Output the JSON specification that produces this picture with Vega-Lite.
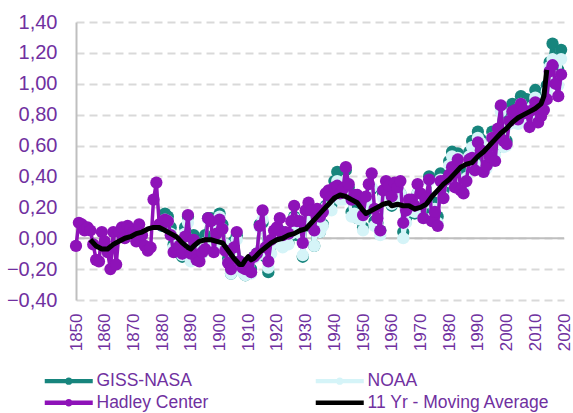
{
"$schema": "https://vega.github.io/schema/vega-lite/v6.json",
"autosize": "none",
"width": 488,
"height": 278,
"padding": {"left": 76, "top": 22, "right": 9, "bottom": 113},
"background": "white",
"config": {
  "view": {"stroke": null},
  "font": "Liberation Sans",
  "axis": {"labelFont": "Liberation Sans", "labelColor": "#7030A0", "ticks": false, "title": null, "labelOverlap": false},
  "axisY": {"labelOverlap": false, "labelFontSize": 20, "labelPadding": 19, "tickCount": 10}
},
"datasets": {
"d": [
{"t":1850,"h":-0.05},{"t":1851,"h":0.10},{"t":1852,"h":0.09},{"t":1853,"h":0.05},{"t":1854,"h":0.07},{"t":1855,"h":0.05},{"t":1856,"h":-0.04},{"t":1857,"h":-0.14},{"t":1858,"h":-0.15},{"t":1859,"h":0.04},
{"t":1860,"h":-0.02},{"t":1861,"h":-0.09},{"t":1862,"h":-0.20},{"t":1863,"h":0.04},{"t":1864,"h":-0.17},{"t":1865,"h":0.04},{"t":1866,"h":0.07},{"t":1867,"h":0.00},{"t":1868,"h":0.08},{"t":1869,"h":0.06},
{"t":1870,"h":0.04},{"t":1871,"h":-0.02},{"t":1872,"h":0.09},{"t":1873,"h":0.02},{"t":1874,"h":-0.05},{"t":1875,"h":-0.08},{"t":1876,"h":-0.06},{"t":1877,"h":0.25},{"t":1878,"h":0.36},{"t":1879,"h":0.09},
{"t":1880,"g":0.08,"n":0.09,"h":0.09},{"t":1881,"g":0.16,"n":0.12,"h":0.12},{"t":1882,"g":0.14,"n":0.11,"h":0.11},{"t":1883,"g":0.07,"n":0.03,"h":0.02},{"t":1884,"g":-0.04,"n":-0.06,"h":-0.09},
{"t":1885,"g":-0.09,"n":-0.04,"h":-0.07},{"t":1886,"g":-0.07,"n":-0.03,"h":-0.05},{"t":1887,"g":-0.12,"n":-0.11,"h":-0.10},{"t":1888,"g":0.07,"n":0.03,"h":0.01},{"t":1889,"g":0.14,"n":0.10,"h":0.15},
{"t":1890,"g":-0.11,"n":-0.15,"h":-0.10},{"t":1891,"g":0.02,"n":-0.04,"h":-0.01},{"t":1892,"g":-0.03,"n":-0.11,"h":-0.14},{"t":1893,"g":-0.07,"n":-0.12,"h":-0.15},{"t":1894,"g":-0.06,"n":-0.10,"h":-0.09},
{"t":1895,"g":0.02,"n":-0.03,"h":-0.07},{"t":1896,"g":0.13,"n":0.12,"h":0.13},{"t":1897,"g":0.13,"n":0.11,"h":0.11},{"t":1898,"g":-0.02,"n":-0.05,"h":-0.09},{"t":1899,"g":0.07,"n":0.06,"h":0.03},
{"t":1900,"g":0.16,"n":0.14,"h":0.12},{"t":1901,"g":0.09,"n":0.06,"h":0.06},{"t":1902,"g":-0.04,"n":-0.04,"h":-0.08},{"t":1903,"g":-0.13,"n":-0.16,"h":-0.16},{"t":1904,"g":-0.23,"n":-0.23,"h":-0.20},
{"t":1905,"g":-0.02,"n":-0.07,"h":-0.06},{"t":1906,"g":0.02,"n":-0.01,"h":0.04},{"t":1907,"g":-0.15,"n":-0.18,"h":-0.15},{"t":1908,"g":-0.19,"n":-0.22,"h":-0.19},{"t":1909,"g":-0.24,"n":-0.24,"h":-0.20},
{"t":1910,"g":-0.19,"n":-0.19,"h":-0.17},{"t":1911,"g":-0.20,"n":-0.23,"h":-0.22},{"t":1912,"g":-0.12,"n":-0.13,"h":-0.12},{"t":1913,"g":-0.10,"n":-0.11,"h":-0.10},{"t":1914,"g":0.09,"n":0.07,"h":0.08},
{"t":1915,"g":0.10,"n":0.12,"h":0.18},{"t":1916,"g":-0.12,"n":-0.11,"h":-0.06},{"t":1917,"g":-0.22,"n":-0.19,"h":-0.15},{"t":1918,"g":-0.05,"n":-0.10,"h":-0.01},{"t":1919,"g":-0.03,"n":-0.03,"h":0.05},
{"t":1920,"g":-0.03,"n":-0.03,"h":0.07},{"t":1921,"g":0.05,"n":0.04,"h":0.13},{"t":1922,"g":-0.04,"n":-0.06,"h":0.02},{"t":1923,"g":-0.02,"n":-0.04,"h":0.04},{"t":1924,"g":-0.03,"n":-0.04,"h":0.03},
{"t":1925,"g":0.02,"n":0.03,"h":0.11},{"t":1926,"g":0.14,"n":0.13,"h":0.21},{"t":1927,"g":0.02,"n":0.04,"h":0.11},{"t":1928,"g":0.04,"n":0.03,"h":0.11},{"t":1929,"g":-0.12,"n":-0.11,"h":-0.03},
{"t":1930,"g":0.08,"n":0.09,"h":0.18},{"t":1931,"g":0.14,"n":0.14,"h":0.23},{"t":1932,"g":0.08,"n":0.10,"h":0.18},{"t":1933,"g":-0.05,"n":-0.05,"h":0.05},{"t":1934,"g":0.11,"n":0.09,"h":0.19},
{"t":1935,"g":0.04,"n":0.04,"h":0.14},{"t":1936,"g":0.09,"n":0.08,"h":0.17},{"t":1937,"g":0.21,"n":0.20,"h":0.29},{"t":1938,"g":0.23,"n":0.19,"h":0.31},{"t":1939,"g":0.22,"n":0.18,"h":0.27},
{"t":1940,"g":0.37,"n":0.30,"h":0.33},{"t":1941,"g":0.43,"n":0.37,"h":0.34},{"t":1942,"g":0.31,"n":0.25,"h":0.29},{"t":1943,"g":0.33,"n":0.25,"h":0.32},{"t":1944,"g":0.44,"n":0.37,"h":0.46},
{"t":1945,"g":0.33,"n":0.27,"h":0.35},{"t":1946,"g":0.17,"n":0.14,"h":0.25},{"t":1947,"g":0.21,"n":0.16,"h":0.28},{"t":1948,"g":0.13,"n":0.13,"h":0.28},{"t":1949,"g":0.13,"n":0.12,"h":0.25},
{"t":1950,"g":0.07,"n":0.05,"h":0.15},{"t":1951,"g":0.17,"n":0.20,"h":0.27},{"t":1952,"g":0.25,"n":0.24,"h":0.35},{"t":1953,"g":0.32,"n":0.33,"h":0.42},{"t":1954,"g":0.11,"n":0.08,"h":0.19},
{"t":1955,"g":0.10,"n":0.07,"h":0.13},{"t":1956,"g":0.05,"n":0.02,"h":0.05},{"t":1957,"g":0.29,"n":0.26,"h":0.31},{"t":1958,"g":0.30,"n":0.32,"h":0.37},{"t":1959,"g":0.27,"n":0.27,"h":0.34},
{"t":1960,"g":0.21,"n":0.22,"h":0.27},{"t":1961,"g":0.30,"n":0.29,"h":0.36},{"t":1962,"g":0.27,"n":0.25,"h":0.33},{"t":1963,"g":0.29,"n":0.29,"h":0.37},{"t":1964,"g":0.04,"n":0.00,"h":0.10},
{"t":1965,"g":0.13,"n":0.10,"h":0.18},{"t":1966,"g":0.18,"n":0.18,"h":0.25},{"t":1967,"g":0.22,"n":0.20,"h":0.25},{"t":1968,"g":0.16,"n":0.17,"h":0.21},{"t":1969,"g":0.29,"n":0.29,"h":0.35},
{"t":1970,"g":0.27,"n":0.25,"h":0.29},{"t":1971,"g":0.16,"n":0.13,"h":0.13},{"t":1972,"g":0.25,"n":0.23,"h":0.26},{"t":1973,"g":0.40,"n":0.37,"h":0.38},{"t":1974,"g":0.17,"n":0.13,"h":0.11},
{"t":1975,"g":0.23,"n":0.19,"h":0.17},{"t":1976,"g":0.14,"n":0.10,"h":0.08},{"t":1977,"g":0.42,"n":0.38,"h":0.37},{"t":1978,"g":0.31,"n":0.27,"h":0.26},{"t":1979,"g":0.40,"n":0.37,"h":0.38},
{"t":1980,"g":0.50,"n":0.47,"h":0.41},{"t":1981,"g":0.56,"n":0.53,"h":0.46},{"t":1982,"g":0.38,"n":0.35,"h":0.33},{"t":1983,"g":0.55,"n":0.52,"h":0.51},{"t":1984,"g":0.40,"n":0.36,"h":0.31},
{"t":1985,"g":0.36,"n":0.32,"h":0.29},{"t":1986,"g":0.42,"n":0.39,"h":0.37},{"t":1987,"g":0.56,"n":0.53,"h":0.51},{"t":1988,"g":0.63,"n":0.59,"h":0.52},{"t":1989,"g":0.51,"n":0.48,"h":0.44},
{"t":1990,"g":0.69,"n":0.65,"h":0.62},{"t":1991,"g":0.64,"n":0.62,"h":0.57},{"t":1992,"g":0.46,"n":0.43,"h":0.43},{"t":1993,"g":0.47,"n":0.45,"h":0.47},{"t":1994,"g":0.55,"n":0.52,"h":0.53},
{"t":1995,"g":0.69,"n":0.65,"h":0.65},{"t":1996,"g":0.57,"n":0.54,"h":0.50},{"t":1997,"g":0.70,"n":0.67,"h":0.71},{"t":1998,"g":0.85,"n":0.82,"h":0.86},{"t":1999,"g":0.62,"n":0.59,"h":0.63},
{"t":2000,"g":0.63,"n":0.60,"h":0.61},{"t":2001,"g":0.78,"n":0.74,"h":0.76},{"t":2002,"g":0.87,"n":0.78,"h":0.82},{"t":2003,"g":0.86,"n":0.79,"h":0.83},{"t":2004,"g":0.77,"n":0.74,"h":0.77},
{"t":2005,"g":0.92,"n":0.87,"h":0.87},{"t":2006,"g":0.88,"n":0.82,"h":0.83},{"t":2007,"g":0.90,"n":0.83,"h":0.81},{"t":2008,"g":0.78,"n":0.75,"h":0.72},{"t":2009,"g":0.89,"n":0.85,"h":0.83},
{"t":2010,"g":0.96,"n":0.91,"h":0.88},{"t":2011,"g":0.85,"n":0.79,"h":0.75},{"t":2012,"g":0.88,"n":0.83,"h":0.79},{"t":2013,"g":0.92,"n":0.87,"h":0.83},{"t":2014,"g":0.99,"n":0.95,"h":0.90},
{"t":2015,"g":1.14,"n":1.11,"h":1.08},{"t":2016,"g":1.26,"n":1.16,"h":1.12},{"t":2017,"g":1.16,"n":1.05,"h":1.00},{"t":2018,"g":1.09,"n":0.99,"h":0.92},{"t":2019,"g":1.22,"n":1.16,"h":1.06}
],
"ma": [
{"t":1855,"m":-0.01},{"t":1857,"m":-0.05},{"t":1859,"m":-0.07},{"t":1861,"m":-0.07},{"t":1863,"m":-0.04},{"t":1865,"m":-0.02},{"t":1867,"m":0.00},{"t":1869,"m":0.01},
{"t":1871,"m":0.03},{"t":1873,"m":0.04},{"t":1875,"m":0.06},{"t":1877,"m":0.07},{"t":1879,"m":0.07},{"t":1881,"m":0.05},{"t":1883,"m":0.03},{"t":1885,"m":0.01},
{"t":1887,"m":-0.03},{"t":1889,"m":-0.06},{"t":1890,"m":-0.07},{"t":1891,"m":-0.05},{"t":1893,"m":-0.02},{"t":1895,"m":-0.01},{"t":1897,"m":-0.01},{"t":1899,"m":-0.02},
{"t":1901,"m":-0.03},{"t":1903,"m":-0.08},{"t":1905,"m":-0.13},{"t":1907,"m":-0.17},{"t":1908,"m":-0.17},{"t":1909,"m":-0.14},{"t":1910,"m":-0.12},{"t":1911,"m":-0.14},
{"t":1912,"m":-0.13},{"t":1914,"m":-0.09},{"t":1916,"m":-0.06},{"t":1918,"m":-0.03},{"t":1920,"m":-0.01},{"t":1922,"m":0.00},{"t":1924,"m":0.02},{"t":1926,"m":0.03},
{"t":1928,"m":0.05},{"t":1930,"m":0.06},{"t":1932,"m":0.10},{"t":1934,"m":0.14},{"t":1936,"m":0.18},{"t":1938,"m":0.22},{"t":1940,"m":0.26},{"t":1942,"m":0.28},
{"t":1944,"m":0.27},{"t":1946,"m":0.25},{"t":1948,"m":0.23},{"t":1950,"m":0.18},{"t":1951,"m":0.16},{"t":1953,"m":0.18},{"t":1955,"m":0.20},{"t":1957,"m":0.22},
{"t":1959,"m":0.23},{"t":1960,"m":0.21},{"t":1962,"m":0.22},{"t":1964,"m":0.21},{"t":1966,"m":0.21},{"t":1968,"m":0.19},{"t":1970,"m":0.20},{"t":1972,"m":0.22},
{"t":1974,"m":0.27},{"t":1976,"m":0.31},{"t":1978,"m":0.35},{"t":1980,"m":0.38},{"t":1982,"m":0.42},{"t":1984,"m":0.46},{"t":1986,"m":0.48},{"t":1988,"m":0.49},
{"t":1990,"m":0.53},{"t":1992,"m":0.56},{"t":1994,"m":0.60},{"t":1996,"m":0.64},{"t":1998,"m":0.68},{"t":2000,"m":0.71},{"t":2002,"m":0.75},{"t":2004,"m":0.78},
{"t":2006,"m":0.80},{"t":2008,"m":0.82},{"t":2010,"m":0.84},{"t":2012,"m":0.87},{"t":2013,"m":0.92},{"t":2014,"m":1.09}
]
},
"encoding": {
  "x": {"field": "t", "type": "quantitative",
    "scale": {"domain": [1850, 2020], "nice": false, "zero": false},
    "axis": {"values": [1850,1860,1870,1880,1890,1900,1910,1920,1930,1940,1950,1960,1970,1980,1990,2000,2010,2020],
      "format": "d", "labelAngle": -90, "labelAlign": "right", "labelBaseline": "middle", "labelFontSize": 17,
      "labelPadding": 13, "grid": false, "domain": false, "labelFlush": false, "labelOverlap": false}}
},
"layer": [
  {"data": {"values": [{"z": 0}]}, "mark": {"type": "rule", "color": "#BFBFBF", "strokeWidth": 2},
   "encoding": {"x": null, "y": {"field": "z", "type": "quantitative",
     "scale": {"domain": [-0.4, 1.4], "nice": false, "zero": false},
     "axis": {"values": [-0.4,-0.2,0,0.2,0.4,0.6,0.8,1.0,1.2,1.4], "labelExpr": "replace(format(datum.value, '.2f'), '.', ',')",
       "labelFontSize": 20, "labelPadding": 19, "labelOverlap": false, "labelFlush": false, "grid": true, "gridColor": "#D9D9D9", "gridWidth": 2, "gridDash": [8, 5],
       "domain": true, "domainColor": "#BFBFBF", "domainWidth": 2}}}},
  {"data": {"name": "d"}, "mark": {"type": "line", "strokeWidth": 3.5},
   "encoding": {"y": {"field": "g", "type": "quantitative", "axis": {"labelOverlap": false}}, "color": {"datum": "GISS-NASA"}}},
  {"data": {"name": "d"}, "mark": {"type": "point", "filled": true, "size": 150, "opacity": 1},
   "encoding": {"y": {"field": "g", "type": "quantitative"}, "color": {"datum": "GISS-NASA"}}},
  {"data": {"name": "d"}, "mark": {"type": "line", "strokeWidth": 3.5},
   "encoding": {"y": {"field": "n", "type": "quantitative"}, "color": {"datum": "NOAA"}}},
  {"data": {"name": "d"}, "mark": {"type": "point", "filled": true, "size": 150, "opacity": 1},
   "encoding": {"y": {"field": "n", "type": "quantitative"}, "color": {"datum": "NOAA"}}},
  {"data": {"name": "d"}, "mark": {"type": "line", "strokeWidth": 3.5},
   "encoding": {"y": {"field": "h", "type": "quantitative"}, "color": {"datum": "Hadley Center"}}},
  {"data": {"name": "d"}, "mark": {"type": "point", "filled": true, "size": 150, "opacity": 1},
   "encoding": {"y": {"field": "h", "type": "quantitative"}, "color": {"datum": "Hadley Center"}}},
  {"data": {"name": "ma"}, "mark": {"type": "line", "strokeWidth": 5, "strokeJoin": "round"},
   "encoding": {"y": {"field": "m", "type": "quantitative"},
     "color": {"datum": "11 Yr - Moving Average", "type": "nominal",
       "scale": {"domain": ["GISS-NASA", "Hadley Center", "NOAA", "11 Yr - Moving Average"],
                 "range": ["#17857D", "#8E12B8", "#D5F4F8", "#000000"]},
       "legend": {"orient": "none", "legendX": -34, "legendY": 350, "columns": 2, "columnPadding": 104, "rowPadding": 3,
         "title": null, "labelFont": "Liberation Sans", "labelFontSize": 17.5, "labelColor": "#7030A0", "labelOffset": 37, "labelLimit": 400,
         "symbolSize": 144, "symbolStrokeWidth": 0,
         "encode": {"symbols": {"update": {
           "shape": {"signal": "datum.value === '11 Yr - Moving Average' ? 'M-1,-0.37H7V0.37H-1Z' : 'M-1,-0.37H7V0.37H-1Z M3.62,0A0.62,0.62 0 1,1 2.38,0A0.62,0.62 0 1,1 3.62,0Z'"},
           "fill": {"scale": "color", "field": "value"},
           "fillOpacity": {"value": 1},
           "strokeWidth": {"value": 0}}}}}}}}
]
}
